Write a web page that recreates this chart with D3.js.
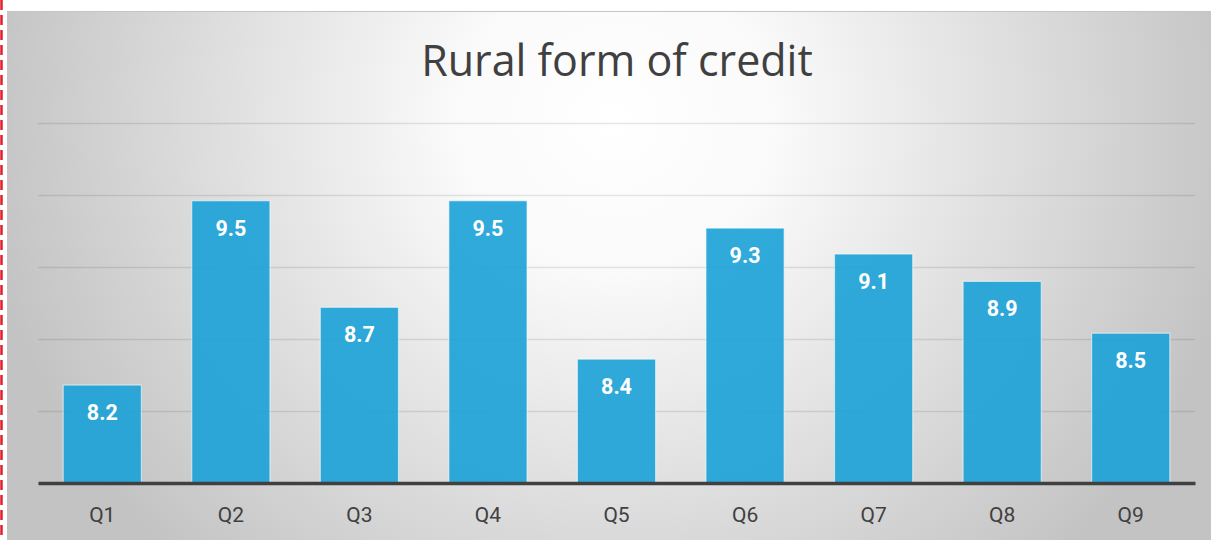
<!DOCTYPE html>
<html>
<head>
<meta charset="utf-8">
<script src="https://cdn.jsdelivr.net/npm/d3@7"></script>
<style>
  html, body { margin: 0; padding: 0; background: #ffffff; }
  svg { display: block; }
</style>
</head>
<body>
<svg id="chart" width="1211" height="540"></svg>
<script>
// ---- data ----
const title = "Rural form of credit";
const categories = ["Q1", "Q2", "Q3", "Q4", "Q5", "Q6", "Q7", "Q8", "Q9"];
const values = [8.18, 9.46, 8.72, 9.46, 8.36, 9.27, 9.09, 8.90, 8.54];
const yDomain = [7.5, 10];
const yTicks = [8, 8.5, 9, 9.5, 10];

// ---- layout ----
const W = 1211, H = 540;
const svg = d3.select("#chart");
const defs = svg.append("defs");

// background radial gradient
const bg = defs.append("radialGradient")
  .attr("id", "bgGrad").attr("gradientUnits", "userSpaceOnUse")
  .attr("cx", 615).attr("cy", 120).attr("r", 640)
  .attr("gradientTransform", "translate(615,120) scale(1,0.95) translate(-615,-120)");
bg.append("stop").attr("offset", "0").attr("stop-color", "#ffffff");
bg.append("stop").attr("offset", "0.25").attr("stop-color", "#fafafa");
bg.append("stop").attr("offset", "0.6").attr("stop-color", "#e0e0e0");
bg.append("stop").attr("offset", "1").attr("stop-color", "#c3c3c3");

// gridline gradient (fainter near top)
const gg = defs.append("linearGradient")
  .attr("id", "gridGrad").attr("gradientUnits", "userSpaceOnUse")
  .attr("x1", 0).attr("x2", 0).attr("y1", 123).attr("y2", 411);
gg.append("stop").attr("offset", "0").attr("stop-color", "#000").attr("stop-opacity", 0.1);
gg.append("stop").attr("offset", "1").attr("stop-color", "#000").attr("stop-opacity", 0.42);

// left red dashed marker line
svg.append("line")
  .attr("x1", 1.5).attr("x2", 1.5).attr("y1", 0).attr("y2", H)
  .attr("stroke", "#e0202a").attr("stroke-width", 2.5)
  .attr("stroke-dasharray", "10,5");

// chart area
svg.append("rect")
  .attr("x", 7).attr("y", 11).attr("width", W - 7 + 2).attr("height", H - 11 + 2)
  .attr("fill", "url(#bgGrad)");
svg.append("line")
  .attr("x1", 7).attr("x2", W).attr("y1", 11.5).attr("y2", 11.5)
  .attr("stroke", "#c4c4c4").attr("stroke-width", 1);

const plot = { left: 38, right: 1195, top: 123, bottom: 483 };

const x = d3.scaleBand()
  .domain(categories)
  .range([plot.left, plot.right])
  .paddingInner(0.392)
  .paddingOuter(0.196);

const y = d3.scaleLinear().domain(yDomain).range([plot.bottom, plot.top]);

// gridlines
const grid = svg.append("g")
  .attr("transform", `translate(${plot.left},0)`)
  .call(d3.axisLeft(y).tickValues(yTicks).tickSize(-(plot.right - plot.left)).tickFormat(""));
grid.select(".domain").remove();
grid.selectAll(".tick line")
  .attr("stroke", "url(#gridGrad)").attr("stroke-width", 1.3);

// bars
svg.append("g").selectAll("rect")
  .data(values)
  .join("rect")
  .attr("x", (d, i) => x(categories[i]))
  .attr("y", d => y(d))
  .attr("width", x.bandwidth())
  .attr("height", d => y(yDomain[0]) - y(d))
  .attr("fill", "#1ba1d7")
  .attr("fill-opacity", 0.91)
  .attr("stroke", "rgba(255,255,255,0.55)")
  .attr("stroke-width", 1.2);

// baseline axis
const xAxis = svg.append("g")
  .attr("transform", `translate(0,${plot.bottom})`)
  .call(d3.axisBottom(x).tickSize(0).tickPadding(0));
xAxis.select(".domain")
  .attr("stroke", "#404040").attr("stroke-width", 3.5);
xAxis.selectAll(".tick text")
  .attr("y", 39)
  .attr("dy", 0)
  .attr("fill", "#404040")
  .style("font-family", "Roboto, 'Liberation Sans', sans-serif")
  .style("font-size", "21px");

// data labels
const fmt = d3.format(".1f");
svg.append("g").selectAll("text")
  .data(values)
  .join("text")
  .attr("x", (d, i) => x(categories[i]) + x.bandwidth() / 2)
  .attr("y", d => y(d) + 35)
  .attr("text-anchor", "middle")
  .attr("fill", "#ffffff")
  .style("font-family", "Roboto, 'Liberation Sans', sans-serif")
  .style("font-weight", "700")
  .style("font-size", "21.5px")
  .text(d => fmt(d));

// title
svg.append("text")
  .attr("x", 617).attr("y", 76)
  .attr("text-anchor", "middle")
  .attr("fill", "#404040")
  .style("font-family", "'Open Sans', 'Noto Sans', sans-serif")
  .style("font-size", "43px")
  .text(title);
</script>
</body>
</html>
